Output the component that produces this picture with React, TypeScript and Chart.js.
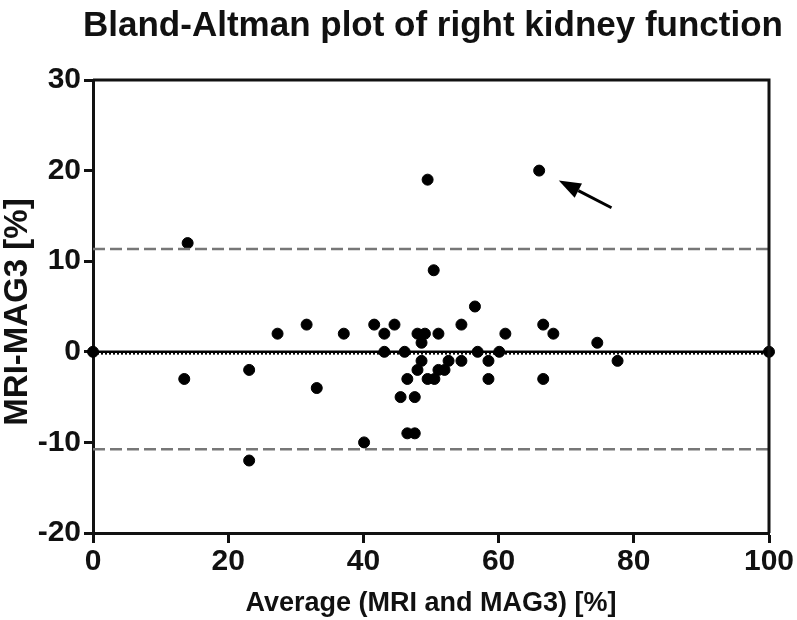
import React, { useEffect, useRef } from "react";
import { Chart, registerables } from "chart.js";

Chart.register(...registerables);

const chartTitle = "Bland-Altman plot of right kidney function";
const xAxisTitle = "Average (MRI and MAG3) [%]";
const yAxisTitle = "MRI-MAG3 [%]";

const averageValues = [
  0, 14.0, 13.5, 23.1, 23.1, 27.3, 31.6, 33.1, 37.1, 40.1, 41.6, 43.1, 43.1, 44.6,
  45.5, 46.1, 46.5, 46.5, 47.6, 47.6, 48.0, 48.0, 48.6, 48.6, 49.1, 49.5, 49.5, 50.4,
  50.5, 51.1, 51.1, 52.0, 52.6, 54.5, 54.5, 56.5, 56.9, 58.5, 58.5, 60.1, 61.0, 66.0,
  66.6, 66.6, 68.1, 74.6, 77.6, 100,
];
const differenceValues = [
  0, 12, -3, -2, -12, 2, 3, -4, 2, -10, 3, 2, 0, 3,
  -5, 0, -3, -9, -9, -5, -2, 2, 1, -1, 2, -3, 19, 9,
  -3, 2, -2, -2, -1, 3, -1, 5, 0, -1, -3, 0, 2, 20,
  3, -3, 2, 1, -1, 0,
];

const xRange = [0, 100];
const yRange = [-20, 30];
const xTickStep = 20;
const yTickStep = 10;

const zeroLine = 0;
const biasLine = -0.2;
const upperLimit = 11.35;
const lowerLimit = -10.75;

// arrow pointing at outlier, in data units
const arrowTail = [76.7, 15.9];
const arrowTip = [68.9, 18.9];

const FONT = "'Liberation Sans', Arial, Helvetica, sans-serif";

export default function App() {
  const ref = useRef<HTMLCanvasElement | null>(null);

  useEffect(() => {
    if (!ref.current) return;
    const points = averageValues.map((x, i) => ({ x, y: differenceValues[i] }));
    const hline = (v: number) => [
      { x: xRange[0], y: v },
      { x: xRange[1], y: v },
    ];

    const decor = {
      id: "decor",
      afterDraw(chart: any) {
        const ctx = chart.ctx;
        const a = chart.chartArea;
        const xs = chart.scales.x;
        const ys = chart.scales.y;
        ctx.save();
        // top + right border
        ctx.strokeStyle = "#111";
        ctx.lineWidth = 3;
        ctx.beginPath();
        ctx.moveTo(a.left, a.top);
        ctx.lineTo(a.right, a.top);
        ctx.lineTo(a.right, a.bottom);
        ctx.stroke();
        // title
        ctx.fillStyle = "#111";
        ctx.font = `bold 35px ${FONT}`;
        ctx.textAlign = "center";
        ctx.textBaseline = "alphabetic";
        ctx.fillText(chartTitle, 433, 36);
        // y axis title
        ctx.save();
        ctx.translate(18, 312);
        ctx.rotate(-Math.PI / 2);
        ctx.font = `bold 33px ${FONT}`;
        ctx.textAlign = "center";
        ctx.textBaseline = "middle";
        ctx.fillText(yAxisTitle, 0, 0);
        ctx.restore();
        // arrow
        const tx = xs.getPixelForValue(arrowTail[0]);
        const ty = ys.getPixelForValue(arrowTail[1]);
        const hx = xs.getPixelForValue(arrowTip[0]);
        const hy = ys.getPixelForValue(arrowTip[1]);
        const ang = Math.atan2(hy - ty, hx - tx);
        const headLen = 22;
        const headW = 8;
        const bx = hx - headLen * Math.cos(ang);
        const by = hy - headLen * Math.sin(ang);
        ctx.strokeStyle = "#000";
        ctx.lineWidth = 3;
        ctx.beginPath();
        ctx.moveTo(tx, ty);
        ctx.lineTo(bx, by);
        ctx.stroke();
        ctx.fillStyle = "#000";
        ctx.beginPath();
        ctx.moveTo(hx, hy);
        ctx.lineTo(bx + headW * Math.sin(ang), by - headW * Math.cos(ang));
        ctx.lineTo(bx - headW * Math.sin(ang), by + headW * Math.cos(ang));
        ctx.closePath();
        ctx.fill();
        ctx.restore();
      },
    };

    const chart = new Chart(ref.current, {
      type: "scatter",
      data: {
        datasets: [
          {
            type: "line",
            data: hline(upperLimit),
            borderColor: "#777",
            borderWidth: 2.5,
            borderDash: [12, 5],
            pointRadius: 0,
          },
          {
            type: "line",
            data: hline(lowerLimit),
            borderColor: "#777",
            borderWidth: 2.5,
            borderDash: [12, 5],
            pointRadius: 0,
          },
          {
            type: "line",
            data: hline(biasLine),
            borderColor: "#000",
            borderWidth: 2,
            borderDash: [2, 2],
            pointRadius: 0,
          },
          {
            type: "line",
            data: hline(zeroLine),
            borderColor: "#000",
            borderWidth: 2.5,
            pointRadius: 0,
          },
          {
            data: points,
            backgroundColor: "#000",
            borderColor: "#000",
            pointRadius: 5.5,
            clip: false,
          } as any,
        ],
      },
      options: {
        animation: false,
        responsive: false,
        layout: { padding: { top: 80, right: 28, left: 0, bottom: 0 } },
        plugins: {
          legend: { display: false },
          tooltip: { enabled: false },
        },
        scales: {
          x: {
            type: "linear",
            min: xRange[0],
            max: xRange[1],
            afterFit: (s: any) => {
              s.height = 87;
            },
            ticks: {
              stepSize: xTickStep,
              color: "#111",
              font: { family: FONT, size: 30, weight: "bold" },
              padding: 1,
            },
            grid: {
              drawOnChartArea: false,
              drawTicks: true,
              tickLength: 10,
              tickWidth: 3,
              tickColor: "#111",
            },
            border: { color: "#111", width: 3 },
            title: {
              display: true,
              text: xAxisTitle,
              color: "#111",
              font: { family: FONT, size: 27, weight: "bold" },
              padding: { top: 0, bottom: 0 },
            },
          },
          y: {
            type: "linear",
            min: yRange[0],
            max: yRange[1],
            afterFit: (s: any) => {
              s.width = 93;
            },
            ticks: {
              stepSize: yTickStep,
              color: "#111",
              font: { family: FONT, size: 30, weight: "bold" },
              padding: 3,
            },
            grid: {
              drawOnChartArea: false,
              drawTicks: true,
              tickLength: 9,
              tickWidth: 3,
              tickColor: "#111",
            },
            border: { color: "#111", width: 3 },
            title: { display: false },
          },
        },
      },
      plugins: [decor],
    } as any);
    return () => chart.destroy();
  }, []);

  return (
    <div style={{ position: "absolute", left: 0, top: 0, width: 797, height: 620, background: "#fff" }}>
      <canvas ref={ref} width={797} height={620} />
    </div>
  );
}
